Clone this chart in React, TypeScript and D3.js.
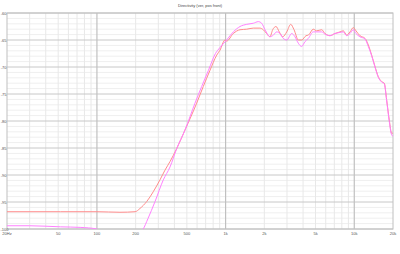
import React from "react";
import * as d3 from "d3";

const title = "Directivity (ver, pos front)";

const xTickValues = [20, 50, 100, 200, 500, 1000, 2000, 5000, 10000, 20000];
const xTickLabels = ["20Hz", "50", "100", "200", "500", "1k", "2k", "5k", "10k", "20k"];
const yTickValues = [-60, -65, -70, -75, -80, -85, -90, -95, -100];
const yTickLabels = ["-60", "-65", "-70", "-75", "-80", "-85", "-90", "-95", "-100"];

const salmonFreq = [20, 52, 100, 151, 198, 216, 244, 274, 309, 338, 370, 417, 483, 596, 671, 757, 853, 904, 989, 1019, 1148, 1294, 1459, 1641, 1849, 1963, 2085, 2213, 2322, 2465, 2613, 2779, 2986, 3207, 3404, 3675, 3901, 4217, 4396, 4800, 5103, 5584, 5921, 6476, 7082, 7745, 8220, 8730, 9267, 9826, 10307, 11071, 12110, 12853, 13650, 14487, 15376, 16339, 17109, 17860, 18708, 19540, 20000];
const salmonDb = [-96.8, -96.8, -96.8, -96.9, -96.8, -96.2, -94.9, -93.1, -90.9, -89.1, -87.5, -85.1, -81.7, -76.7, -73.6, -70.6, -67.8, -66.9, -65.0, -65.2, -63.8, -63.1, -63.0, -62.8, -62.8, -63.1, -63.8, -64.4, -63.1, -62.5, -63.5, -64.4, -63.5, -62.1, -63.1, -65.0, -65.0, -64.2, -64.1, -63.0, -63.3, -63.1, -63.8, -64.2, -63.8, -63.5, -63.3, -64.1, -63.5, -62.7, -63.3, -64.2, -64.7, -65.9, -67.8, -69.9, -71.8, -72.7, -73.0, -76.1, -79.8, -82.3, -82.2];

const magentaFreq = [20, 30, 52, 74, 100, 126, 165, 228, 249, 283, 328, 370, 417, 483, 578, 652, 736, 834, 904, 1019, 1148, 1294, 1459, 1641, 1796, 1906, 2025, 2213, 2349, 2495, 2650, 2808, 2986, 3265, 3461, 3675, 3901, 4140, 4396, 4800, 5103, 5584, 5921, 6476, 7082, 7745, 8220, 8730, 9267, 9826, 10307, 11071, 12110, 12853, 13650, 14487, 15376, 16339, 17109, 17860, 18708, 19540, 20000];
const magentaDb = [-99.4, -99.4, -99.6, -99.7, -100.0, -101.5, -103.0, -100.1, -98.1, -94.9, -90.9, -88.5, -85.1, -81.7, -76.7, -73.6, -70.6, -67.5, -66.4, -65.0, -63.5, -62.5, -62.1, -61.9, -61.6, -61.9, -63.1, -64.4, -64.1, -63.5, -63.8, -64.7, -65.0, -63.8, -64.4, -65.6, -66.2, -65.3, -64.7, -63.5, -63.5, -63.5, -63.9, -64.2, -63.8, -63.6, -63.5, -64.2, -63.8, -63.1, -63.8, -64.4, -64.8, -66.2, -67.9, -70.0, -71.9, -72.8, -73.1, -76.3, -80.1, -82.6, -82.8];

const W = 400;
const H = 254;
const left = 7;
const right = 393;
const top = 13;
const bottom = 229;

export default function App() {
  const x = d3.scaleLog().domain([20, 20000]).range([left, right]);
  const y = d3.scaleLinear().domain([-100, -60]).range([bottom, top]);

  const minorX: number[] = [];
  [10, 100, 1000, 10000].forEach((dec) => {
    for (let k = 2; k <= 9; k++) {
      const v = dec * k;
      if (v > 20 && v < 20000 && v !== 100 && v !== 1000 && v !== 10000) minorX.push(v);
    }
  });
  const majorX = [100, 1000, 10000];
  const minorY: number[] = [];
  for (let v = -99; v < -60; v++) if (v % 5 !== 0) minorY.push(v);

  const line = d3
    .line<[number, number]>()
    .x((d) => x(d[0]))
    .y((d) => y(d[1]))
    .curve(d3.curveMonotoneX);

  const salmon = line(salmonFreq.map((f, i) => [f, salmonDb[i]] as [number, number])) || "";
  const magenta = line(magentaFreq.map((f, i) => [f, magentaDb[i]] as [number, number])) || "";

  const font = "'Liberation Sans', Arial, sans-serif";

  return (
    <svg
      width={W}
      height={H}
      style={{ position: "absolute", left: 0, top: 0, background: "#fff" }}
    >
      <defs>
        <clipPath id="plot">
          <rect x={left} y={top} width={right - left} height={bottom - top} />
        </clipPath>
      </defs>
      <rect x={0} y={0} width={W} height={H} fill="#fff" />
      {minorY.map((v) => (
        <line key={"my" + v} x1={left} x2={right} y1={y(v)} y2={y(v)} stroke="#efefef" strokeWidth={1} />
      ))}
      {minorX.map((v) => (
        <line key={"mx" + v} x1={x(v)} x2={x(v)} y1={top} y2={bottom} stroke="#e8e8e8" strokeWidth={1} />
      ))}
      {yTickValues.map((v) => (
        <line key={"Y" + v} x1={left} x2={right} y1={y(v)} y2={y(v)} stroke="#c8c8c8" strokeWidth={1} />
      ))}
      {majorX.map((v) => (
        <line key={"X" + v} x1={x(v)} x2={x(v)} y1={top} y2={bottom} stroke="#c0c0c0" strokeWidth={1.2} />
      ))}
      <rect x={left} y={top} width={right - left} height={bottom - top} fill="none" stroke="#c0c0c0" strokeWidth={1} />
      <g clipPath="url(#plot)">
        <path d={salmon} fill="none" stroke="#ff8c8c" strokeWidth={1} />
        <path d={magenta} fill="none" stroke="#ff80ff" strokeWidth={1} />
      </g>
      {yTickValues.map((v, i) => (
        <text
          key={"yl" + v}
          x={yTickLabels[i].length > 3 ? 0.5 : 6.5}
          y={y(v) + 1.5}
          fontSize={4}
          fill="#555"
          textAnchor={yTickLabels[i].length > 3 ? "start" : "end"}
          fontFamily={font}
        >
          {yTickLabels[i]}
        </text>
      ))}
      {xTickValues.map((v, i) => (
        <text key={"xl" + v} x={x(v)} y={235} fontSize={4} fill="#555" textAnchor="middle" fontFamily={font}>
          {xTickLabels[i]}
        </text>
      ))}
      <text x={200} y={7} fontSize={4} fill="#444" textAnchor="middle" fontFamily={font}>
        {title}
      </text>
    </svg>
  );
}
